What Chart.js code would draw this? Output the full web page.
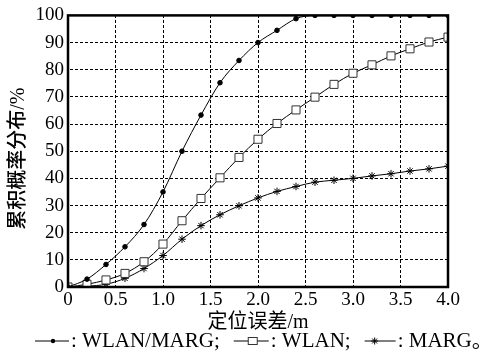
<!DOCTYPE html>
<html>
<head>
<meta charset="utf-8">
<script src="https://cdn.jsdelivr.net/npm/chart.js"></script>
<style>
  html, body { margin: 0; padding: 0; background: #fff; }
  #wrap { width: 483px; height: 354px; }
</style>
</head>
<body>
<div id="wrap"><canvas id="cdf" width="483" height="354"></canvas></div>
<script>
const errorM = [0, 0.2, 0.4, 0.6, 0.8, 1.0, 1.2, 1.4, 1.6, 1.8, 2.0, 2.2, 2.4, 2.6, 2.8, 3.0, 3.2, 3.4, 3.6, 3.8, 4.0];
const wlanMarg = [0, 2.9, 8.3, 14.8, 23, 35, 50, 63.3, 75.2, 83.4, 90, 94.5, 98.8, 100, 100, 100, 100, 100, 100, 100, 100];
const wlan = [0, 1, 2.6, 5, 9.3, 15.8, 24.4, 32.6, 40.2, 47.7, 54.4, 60.2, 65.2, 69.9, 74.6, 78.7, 81.8, 85.1, 87.7, 90.2, 92];
const marg = [0, 0.3, 1, 3.2, 6.8, 11.6, 17.6, 22.6, 26.6, 29.9, 32.8, 35.2, 37, 38.6, 39.3, 40, 40.9, 41.7, 42.7, 43.5, 44.5];

const xTickLabels = ["0", "0.5", "1.0", "1.5", "2.0", "2.5", "3.0", "3.5", "4.0"];
const yTickLabels = ["0", "10", "20", "30", "40", "50", "60", "70", "80", "90", "100"];
const seriesNames = ["WLAN/MARG", "WLAN", "MARG"];
const legendEnds = [";", ";", "\u3002"];

const serif = "'Liberation Serif', 'Noto Sans CJK SC', serif";

function pairs(ys) {
  return ys.map((y, i) => ({ x: errorM[i], y: y }));
}

// dashed grid via a stroke pattern (3 on, 2 off)
function dashPattern(vertical) {
  const c = document.createElement("canvas");
  c.width = vertical ? 1 : 5;
  c.height = vertical ? 5 : 1;
  const g = c.getContext("2d");
  g.fillStyle = "#000";
  if (vertical) g.fillRect(0, 0, 1, 3);
  else g.fillRect(0, 0, 3, 1);
  return document.getElementById("cdf").getContext("2d").createPattern(c, "repeat");
}

function marker(ctx, style, x, y) {
  ctx.save();
  ctx.strokeStyle = "#000";
  ctx.fillStyle = "#000";
  ctx.lineWidth = 1;
  if (style === "circle") {
    ctx.beginPath();
    ctx.arc(x, y, 2.2, 0, Math.PI * 2);
    ctx.fill();
  } else if (style === "rect") {
    ctx.fillStyle = "#fff";
    ctx.strokeStyle = "#333";
    ctx.fillRect(x - 4.5, y - 3.5, 9, 7);
    ctx.strokeRect(x - 4.5, y - 3.5, 9, 7);
  } else {
    ctx.beginPath();
    for (let k = 0; k < 4; k++) {
      const a = k * Math.PI / 4;
      ctx.moveTo(x - 3.5 * Math.cos(a), y - 3.5 * Math.sin(a));
      ctx.lineTo(x + 3.5 * Math.cos(a), y + 3.5 * Math.sin(a));
    }
    ctx.stroke();
  }
  ctx.restore();
}

const framePlugin = {
  id: "frame",
  afterDraw(chart) {
    const { ctx, chartArea: a } = chart;
    ctx.save();
    ctx.strokeStyle = "#000";
    ctx.lineWidth = 2.5;
    ctx.strokeRect(a.left, a.top, a.right - a.left, a.bottom - a.top);
    ctx.restore();
  }
};

// legend as in the paper: "—•—: name;" repeated, marker sits left of centre
const legendPlugin = {
  id: "lineLegend",
  afterDraw(chart) {
    const ctx = chart.ctx;
    const styles = ["circle", "rect", "star"];
    const lineLen = [34, 35, 31];
    const markAt = [18, 19, 10];
    const y = 341;
    let x = 35;
    ctx.save();
    ctx.font = "21px " + serif;
    ctx.textBaseline = "middle";
    ctx.fillStyle = "#000";
    seriesNames.forEach((name, i) => {
      ctx.strokeStyle = "#000";
      ctx.lineWidth = 1;
      ctx.beginPath();
      ctx.moveTo(x, y);
      ctx.lineTo(x + lineLen[i], y);
      ctx.stroke();
      marker(ctx, styles[i], x + markAt[i], y);
      x += lineLen[i] + 2;
      const txt = ": " + name + legendEnds[i];
      ctx.fillText(txt, x, y);
      x += ctx.measureText(txt).width + 14;
    });
    ctx.restore();
  }
};

new Chart(document.getElementById("cdf"), {
  type: "line",
  data: {
    datasets: [
      {
        label: seriesNames[0],
        data: pairs(wlanMarg),
        borderColor: "#000",
        borderWidth: 1,
        pointStyle: "circle",
        pointRadius: 2.3,
        pointBackgroundColor: "#000",
        pointBorderColor: "#000",
        cubicInterpolationMode: "monotone"
      },
      {
        label: seriesNames[1],
        data: pairs(wlan),
        borderColor: "#000",
        borderWidth: 1,
        pointStyle: "rect",
        pointRadius: 5.7,
        pointBackgroundColor: "#fff",
        pointBorderColor: "#333",
        pointBorderWidth: 1,
        cubicInterpolationMode: "monotone"
      },
      {
        label: seriesNames[2],
        data: pairs(marg),
        borderColor: "#000",
        borderWidth: 1,
        pointStyle: "star",
        pointRadius: 3.8,
        pointBackgroundColor: "#000",
        pointBorderColor: "#000",
        pointBorderWidth: 1,
        cubicInterpolationMode: "monotone"
      }
    ]
  },
  options: {
    responsive: false,
    devicePixelRatio: 1,
    animation: false,
    layout: { padding: { top: 14, right: 35, bottom: 0, left: 0 } },
    plugins: {
      legend: { display: false },
      tooltip: { enabled: false }
    },
    scales: {
      x: {
        type: "linear",
        min: 0,
        max: 4,
        afterFit(scale) { scale.height = 67; },
        ticks: {
          stepSize: 0.5,
          padding: 2,
          color: "#000",
          font: { family: serif, size: 19 },
          callback: (v) => xTickLabels[Math.round(v / 0.5)]
        },
        grid: { color: dashPattern(true), lineWidth: 1, drawTicks: false },
        border: { display: false },
        title: {
          display: true,
          text: "定位误差/m",
          color: "#000",
          font: { family: serif, size: 20 },
          padding: { top: 0, bottom: 19 }
        }
      },
      y: {
        min: 0,
        max: 100,
        afterFit(scale) { scale.width = 68; },
        ticks: {
          stepSize: 10,
          padding: 4,
          color: "#000",
          font: { family: serif, size: 19 },
          callback: (v) => yTickLabels[Math.round(v / 10)]
        },
        grid: { color: dashPattern(false), lineWidth: 1, drawTicks: false },
        border: { display: false },
        title: {
          display: true,
          text: "累积概率分布/%\u00a0\u00a0\u00a0",
          color: "#000",
          font: { family: serif, size: 20, weight: 500 },
          padding: { top: 7, bottom: 0 }
        }
      }
    }
  },
  plugins: [framePlugin, legendPlugin]
});
</script>
</body>
</html>
